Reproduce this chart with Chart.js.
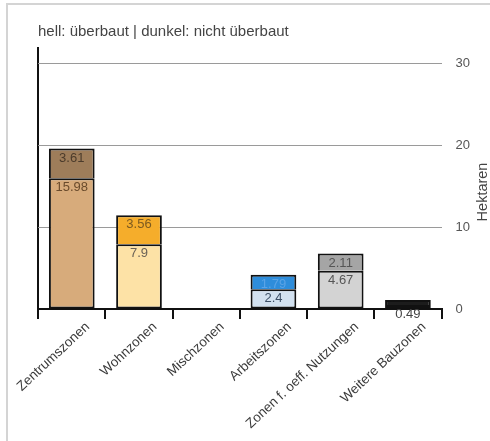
<!DOCTYPE html>
<html>
<head>
<meta charset="utf-8">
<script src="https://cdn.jsdelivr.net/npm/chart.js@4"></script>
<style>
  html, body { margin: 0; padding: 0; background: #fff; overflow: hidden; }
  #frame { position: absolute; left: 6px; top: 3px; width: 484px; height: 436px; border-top: 2px solid #d4d4d4; border-left: 2px solid #d4d4d4; }
  #wrap { position: absolute; left: 0; top: 0; width: 490px; height: 432px; }
</style>
</head>
<body>
<div id="frame"></div>
<div id="wrap"><canvas id="zonen"></canvas></div>
<script>
const categories = ['Zentrumszonen', 'Wohnzonen', 'Mischzonen', 'Arbeitszonen', 'Zonen f. oeff. Nutzungen', 'Weitere Bauzonen'];
const ueberbaut = [15.98, 7.9, 0, 2.4, 4.67, 0.49];
const nichtUeberbaut = [3.61, 3.56, 0, 1.79, 2.11, 0.6];
const yTicks = [0, 10, 20, 30];

const hellColors = ['#d7ab7b', '#fde2a6', '#e8e8e8', '#d2e1f0', '#d3d3d3', '#1c1c1c'];
const dunkelColors = ['#9e7d5a', '#f5ad2b', '#bbbbbb', '#2e8ddb', '#a5a5a5', '#1c1c1c'];
const hellText = ['#6a4b2c', '#6b6256', '#555', '#3c4f66', '#555', '#444'];
const dunkelText = ['#4b3b2b', '#7b5a20', '#555', '#5aa3e6', '#555', '#444'];

const FONT = '"Liberation Sans", Arial, sans-serif';

// werte oben in jedes segment schreiben + achsentitel rechts
const segmentLabels = {
  id: 'segmentLabels',
  afterDatasetsDraw(chart) {
    const ctx = chart.ctx;
    ctx.save();
    ctx.font = '13px ' + FONT;
    ctx.textAlign = 'center';
    ctx.textBaseline = 'top';
    chart.data.datasets.forEach(function(ds, di) {
      const meta = chart.getDatasetMeta(di);
      meta.data.forEach(function(bar, i) {
        const v = ds.data[i];
        if (!v) return;
        if (di === 1 && v < 1) return;
        ctx.fillStyle = di === 0 ? hellText[i] : dunkelText[i];
        ctx.fillText(String(v), bar.x, bar.y + 3);
      });
    });
    ctx.restore();
  },
  afterDraw(chart) {
    const ctx = chart.ctx;
    const area = chart.chartArea;
    ctx.save();
    ctx.translate(chart.width - 7, (area.top + area.bottom) / 2 + 14);
    ctx.rotate(-Math.PI / 2);
    ctx.font = '14.5px ' + FONT;
    ctx.fillStyle = '#444';
    ctx.textAlign = 'center';
    ctx.textBaseline = 'middle';
    ctx.fillText('Hektaren', 0, 0);
    ctx.restore();
  }
};

new Chart(document.getElementById('zonen'), {
  type: 'bar',
  data: {
    labels: categories,
    datasets: [
      {
        label: 'überbaut',
        data: ueberbaut,
        backgroundColor: hellColors,
        borderColor: '#111',
        borderWidth: 2,
        borderSkipped: false,
        barPercentage: 0.68,
        categoryPercentage: 1,
      },
      {
        label: 'nicht überbaut',
        data: nichtUeberbaut,
        backgroundColor: dunkelColors,
        borderColor: '#111',
        borderWidth: 2,
        borderSkipped: 'start',
        barPercentage: 0.68,
        categoryPercentage: 1,
      },
    ]
  },
  options: {
    responsive: true,
    maintainAspectRatio: false,
    animation: false,
    devicePixelRatio: 1,
    layout: {
      padding: { top: 23, left: 38, right: 6, bottom: 0 }
    },
    scales: {
      x: {
        stacked: true,
        offset: true,
        border: { color: '#111', width: 2 },
        grid: {
          offset: true,
          drawOnChartArea: true,
          color: function(c) { return c.index === 0 ? '#111' : 'rgba(0,0,0,0)'; },
          lineWidth: 2,
          tickColor: '#111',
          tickWidth: 2,
          tickLength: 10,
        },
        ticks: {
          minRotation: 43,
          maxRotation: 43,
          autoSkip: false,
          labelOffset: 16,
          padding: 0,
          color: '#3a3a3a',
          font: { family: FONT, size: 13.5 },
        }
      },
      y: {
        stacked: true,
        position: 'right',
        min: 0,
        max: 32,
        afterBuildTicks: function(axis) {
          axis.ticks = yTicks.map(function(v) { return { value: v }; });
        },
        border: { display: false },
        grid: {
          color: '#9a9a9a',
          lineWidth: 1,
          drawTicks: false,
        },
        ticks: {
          padding: 14,
          color: '#555',
          font: { family: FONT, size: 13 },
        }
      }
    },
    plugins: {
      legend: { display: false },
      tooltip: { enabled: false },
      title: {
        display: true,
        align: 'start',
        text: 'hell: überbaut | dunkel: nicht überbaut',
        color: '#444',
        font: { family: FONT, size: 15, weight: 'normal' },
        padding: { top: 0, bottom: 6 },
      }
    }
  },
  plugins: [segmentLabels]
});
</script>
</body>
</html>
